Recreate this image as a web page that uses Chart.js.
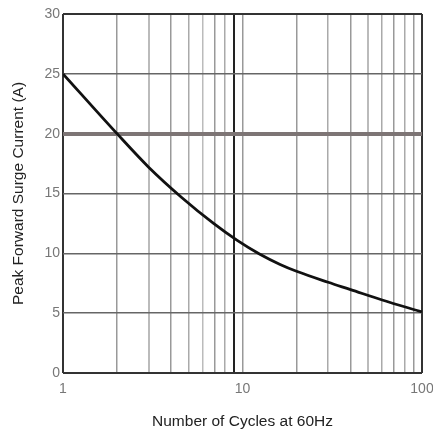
<!DOCTYPE html>
<html>
<head>
<meta charset="utf-8">
<script src="https://cdn.jsdelivr.net/npm/chart.js@4"></script>
<style>
  html, body { margin: 0; padding: 0; background: #fff; }
  #wrap { width: 433px; height: 432px; }
</style>
</head>
<body>
<div id="wrap"><canvas id="c" width="433" height="432"></canvas></div>
<script>
// cycles (x, log) and peak surge current (A)
const cycles  = [1, 2, 3, 4.6, 6.9, 9.3, 12.5, 16.2, 20, 30, 40, 60, 100];
const current = [25, 20, 17.2, 14.65, 12.5, 11.1, 9.92, 9.07, 8.5, 7.58, 6.97, 6.1, 5.1];

const xTicks = [1, 2, 3, 4, 5, 6, 7, 8, 9, 10, 20, 30, 40, 50, 60, 70, 80, 90, 100];
const xLabels = [1, 10, 100];
const yTicks = [0, 5, 10, 15, 20, 25, 30];

// grid styling per tick value
const vGridColor = {1: '#333', 2: '#999', 3: '#bbb', 4: '#999', 5: '#aaa', 6: '#bbb', 7: '#999', 8: '#aaa', 9: '#222', 10: '#999',
  20: '#999', 30: '#aaa', 40: '#999', 50: '#bbb', 60: '#aaa', 70: '#999', 80: '#aaa', 90: '#999', 100: '#333'};
const vGridWidth = {1: 2, 3: 2, 9: 2, 50: 2, 100: 2};

const points = cycles.map((x, i) => ({ x, y: current[i] }));

new Chart(document.getElementById('c'), {
  type: 'line',
  data: {
    datasets: [{
      data: points,
      borderColor: '#111',
      borderWidth: 2.8,
      pointRadius: 0,
      cubicInterpolationMode: 'monotone',
      fill: false,
    }]
  },
  options: {
    responsive: false,
    animation: false,
    layout: { padding: { top: 14, right: 11, left: 0, bottom: 0 } },
    plugins: { legend: { display: false }, tooltip: { enabled: false } },
    scales: {
      x: {
        type: 'logarithmic',
        min: 1, max: 100,
        afterBuildTicks: s => { s.ticks = xTicks.map(v => ({ value: v })); },
        afterFit: s => { s.height = 59; s.paddingLeft = 0; s.paddingRight = 0; },
        border: { display: false },
        grid: {
          drawTicks: false,
          color: c => vGridColor[c.tick.value] || '#999',
          lineWidth: c => vGridWidth[c.tick.value] || 1.5,
        },
        ticks: {
          autoSkip: false,
          maxRotation: 0,
          padding: 8,
          color: '#777',
          font: { family: 'Liberation Sans', size: 14 },
          callback: v => xLabels.includes(v) ? String(v) : '',
        },
        title: {
          display: true,
          text: 'Number of Cycles at 60Hz',
          color: '#222',
          font: { family: 'Liberation Sans', size: 15.5 },
          padding: { top: 0, bottom: 1 },
        }
      },
      y: {
        min: 0, max: 30,
        afterBuildTicks: s => { s.ticks = yTicks.map(v => ({ value: v })); },
        afterFit: s => { s.width = 63; },
        border: { display: false },
        grid: {
          drawTicks: false,
          color: c => c.tick.value === 20 ? '#7d7575' : (c.tick.value === 0 || c.tick.value === 30 ? '#333' : '#666'),
          lineWidth: c => c.tick.value === 20 ? 4 : (c.tick.value === 0 || c.tick.value === 30 ? 2 : 1.5),
        },
        ticks: {
          padding: 3,
          color: '#777',
          font: { family: 'Liberation Sans', size: 14 },
        },
        title: {
          display: true,
          text: 'Peak Forward Surge Current (A)',
          color: '#222',
          font: { family: 'Liberation Sans', size: 15.5 },
          padding: { top: 9.5, bottom: 0 },
        }
      }
    }
  }
});
</script>
</body>
</html>
